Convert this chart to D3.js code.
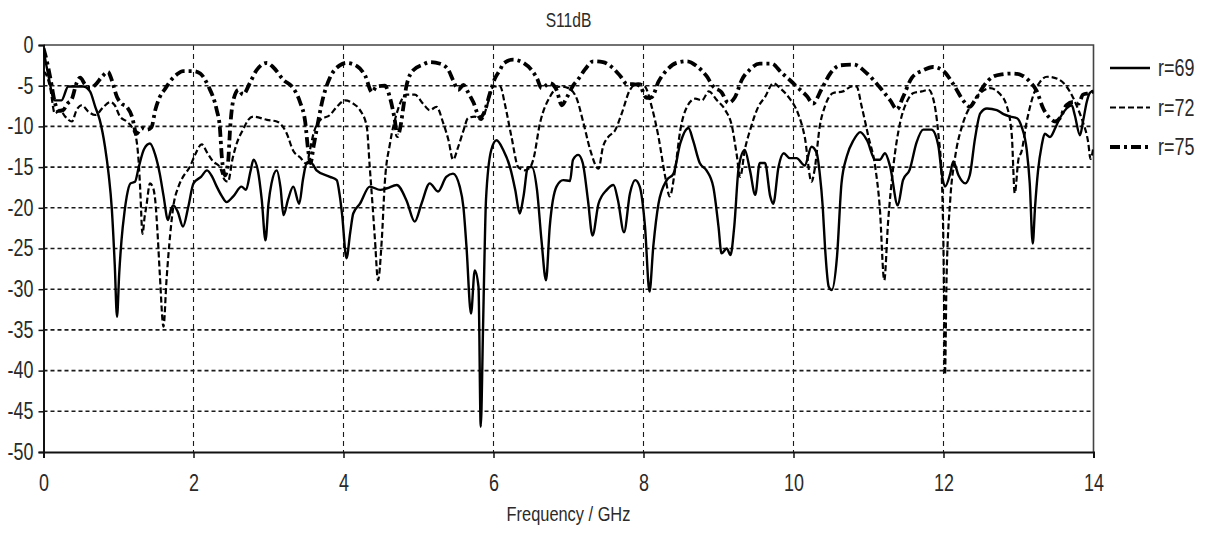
<!DOCTYPE html>
<html>
<head>
<meta charset="utf-8">
<script src="https://cdn.jsdelivr.net/npm/d3@7"></script>
<style>
  html, body { margin: 0; padding: 0; background: #fff; }
  svg { display: block; }
  text { font-family: "Liberation Sans", Arial, sans-serif; fill: #2a2a2a; }
  .axis path, .axis line { stroke: #111; }
  .axis path { stroke-width: 2; }
  .axis line { stroke-width: 1.5; }
  .grid line { stroke: #1a1a1a; stroke-width: 1.6; stroke-dasharray: 4, 3; }
  .grid_v line { stroke-width: 1.1; stroke-dasharray: 5, 4; }
  .series { fill: none; stroke: #000; stroke-linejoin: round; }
</style>
</head>
<body>
<svg id="chart" width="1209" height="537"></svg>
<script>
// 频率轴刻度 (GHz) 与 dB 刻度
const xTicks = [0, 2, 4, 6, 8, 10, 12, 14];
const yTicks = [0, -5, -10, -15, -20, -25, -30, -35, -40, -45, -50];
const seriesNames = ['r=69', 'r=72', 'r=75'];

// [频率 GHz, S11 dB]
const r69 = [
  [0, -0.6], [0.06, -3.5], [0.15, -6.8], [0.24, -6.8], [0.33, -5.1], [0.44, -5.1], [0.53, -5.1],
  [0.62, -5.7], [0.69, -7.6], [0.75, -9.2], [0.82, -12.5], [0.87, -16], [0.91, -20], [0.95, -27],
  [0.98, -33.4], [1.01, -28], [1.04, -24], [1.08, -20.5], [1.11, -18.6], [1.16, -17], [1.22, -16.8],
  [1.27, -15], [1.34, -12.8], [1.42, -12.1], [1.49, -13.5], [1.55, -15.8], [1.6, -18.5], [1.66, -21.5],
  [1.7, -20.2], [1.73, -19.7], [1.79, -20.5], [1.86, -22.3], [1.93, -19.9], [2.0, -17], [2.1, -16.2],
  [2.18, -15.4], [2.25, -16.2], [2.31, -17.4], [2.38, -18.6], [2.44, -19.3], [2.53, -18.6], [2.64, -17.4],
  [2.7, -17.8], [2.76, -15.5], [2.8, -14.1], [2.86, -15.5], [2.91, -19], [2.96, -24], [3.0, -19.5],
  [3.04, -17], [3.11, -15.4], [3.16, -17.5], [3.2, -20.9], [3.26, -19], [3.33, -17.4], [3.41, -19.5],
  [3.46, -16.5], [3.51, -14.5], [3.57, -14.5], [3.64, -15.4], [3.82, -16.2], [3.91, -16.6], [3.95, -18.5],
  [3.98, -20.7], [4.04, -26.2], [4.09, -23], [4.13, -20.7], [4.22, -19.5], [4.35, -17.4], [4.49, -17.8],
  [4.58, -17.6], [4.71, -17.2], [4.84, -19.1], [4.95, -21.7], [5.04, -19.5], [5.15, -17], [5.26, -18],
  [5.37, -16.2], [5.46, -15.8], [5.55, -17.4], [5.6, -20], [5.64, -24.8], [5.7, -33], [5.75, -27.7],
  [5.8, -29.7], [5.83, -46.9], [5.86, -35], [5.88, -26], [5.9, -19], [5.97, -12.9], [6.04, -11.7],
  [6.13, -12.9], [6.22, -15], [6.29, -17.8], [6.35, -20.7], [6.4, -18.6], [6.46, -15], [6.51, -15],
  [6.58, -17.8], [6.64, -24], [6.7, -28.9], [6.75, -22.3], [6.84, -17.4], [6.93, -16.6], [7.02, -16.7],
  [7.06, -14.1], [7.13, -13.5], [7.19, -14.5], [7.26, -19.1], [7.32, -23.4], [7.4, -19.5], [7.51, -17.8],
  [7.6, -17.2], [7.66, -19.1], [7.74, -23], [7.82, -18.2], [7.89, -16.6], [7.95, -17.4], [8.02, -22.3],
  [8.08, -30.3], [8.13, -24.8], [8.2, -19.5], [8.31, -16.6], [8.4, -15.8], [8.49, -12.1], [8.6, -10.2],
  [8.66, -11.7], [8.75, -14.5], [8.84, -15.4], [8.93, -17.4], [9.0, -22.3], [9.04, -25.6], [9.11, -25],
  [9.16, -25.8], [9.21, -22.3], [9.27, -15], [9.35, -12.9], [9.42, -15.4], [9.49, -18.4], [9.55, -14.5],
  [9.62, -14.5], [9.69, -18.6], [9.73, -19.5], [9.8, -15], [9.87, -13.3], [9.95, -13.9], [10.04, -13.9],
  [10.15, -14.8], [10.24, -12.5], [10.31, -13.3], [10.35, -15.8], [10.39, -19.9], [10.42, -24.8],
  [10.47, -29.7], [10.51, -30.1], [10.58, -26], [10.64, -17], [10.71, -13.7], [10.8, -11.7], [10.89, -10.7],
  [10.98, -11.7], [11.09, -14.1], [11.15, -14.1], [11.22, -13.3], [11.29, -15], [11.39, -19.7],
  [11.46, -16.6], [11.55, -15.3], [11.64, -12], [11.73, -10.4], [11.84, -10.4], [11.93, -12.3],
  [11.98, -16], [12.02, -17.4], [12.09, -15.8], [12.13, -14.3], [12.2, -16], [12.29, -17], [12.35, -16],
  [12.42, -11.5], [12.49, -8.4], [12.58, -7.8], [12.71, -8], [12.8, -8.5], [12.89, -8.8], [12.98, -9],
  [13.04, -10], [13.11, -12.9], [13.15, -17], [13.19, -24.4], [13.22, -20], [13.26, -15.5], [13.31, -12.3],
  [13.35, -10.9], [13.42, -11.3], [13.49, -10.2], [13.55, -9], [13.64, -7.8], [13.71, -7.4], [13.75, -8.6],
  [13.82, -11.1], [13.86, -9.4], [13.91, -7], [13.95, -5.9], [14, -5.6]
];

const r72 = [
  [0, -3.3], [0.02, -3.4], [0.09, -5.3], [0.15, -8.4], [0.22, -8], [0.29, -8.8], [0.38, -9.4], [0.44, -8],
  [0.51, -7.4], [0.6, -8.2], [0.69, -8.6], [0.8, -7.6], [0.89, -7], [0.95, -7.4], [1.02, -8.8], [1.11, -9.4],
  [1.2, -10.5], [1.24, -11.7], [1.27, -14.5], [1.29, -17.8], [1.32, -23.2], [1.35, -21], [1.37, -19.9],
  [1.42, -17], [1.46, -17.5], [1.49, -19.1], [1.52, -23], [1.55, -28], [1.6, -34.6], [1.64, -28.9],
  [1.69, -23.2], [1.73, -19.9], [1.8, -17.4], [1.86, -16.2], [1.95, -15], [2.02, -13.5], [2.11, -12.2],
  [2.18, -13.2], [2.26, -14.3], [2.35, -15], [2.41, -16.5], [2.46, -16.8], [2.52, -14], [2.58, -12],
  [2.66, -10.4], [2.73, -9.2], [2.8, -8.8], [2.98, -9.2], [3.11, -9.4], [3.24, -10.8], [3.33, -13],
  [3.42, -13.8], [3.51, -14.6], [3.55, -13], [3.6, -10.9], [3.69, -9.2], [3.82, -8.6], [3.91, -7.6],
  [4.02, -6.8], [4.13, -7.2], [4.22, -8], [4.31, -10], [4.35, -15], [4.39, -20], [4.42, -24], [4.46, -28.9],
  [4.51, -24], [4.55, -17], [4.62, -12.1], [4.71, -8.4], [4.84, -6.1], [4.95, -6.1], [5.06, -7.2],
  [5.15, -8], [5.24, -7.6], [5.33, -9.6], [5.4, -11.7], [5.46, -14.1], [5.53, -12.5], [5.6, -10.5],
  [5.66, -9], [5.75, -8.8], [5.84, -9.2], [5.91, -7.6], [6.0, -5.1], [6.09, -5.1], [6.15, -7.2],
  [6.24, -11.3], [6.33, -15], [6.42, -15.4], [6.49, -15], [6.53, -14.1], [6.62, -9.6], [6.75, -6.4],
  [6.89, -5.1], [7.0, -5.3], [7.11, -6.6], [7.2, -9.6], [7.29, -12.9], [7.4, -15.2], [7.46, -12.5],
  [7.53, -11.3], [7.62, -10.5], [7.71, -8.4], [7.82, -5.5], [7.93, -4.7], [8.02, -5.1], [8.11, -7.6],
  [8.2, -11.3], [8.29, -16.2], [8.35, -18.6], [8.42, -15.4], [8.49, -10.5], [8.58, -7.6], [8.69, -6.6],
  [8.78, -6.8], [8.87, -5.7], [8.98, -6.8], [9.09, -8], [9.18, -10], [9.24, -13.3], [9.29, -16.2],
  [9.35, -12.9], [9.42, -10.5], [9.53, -7.6], [9.62, -6.4], [9.73, -4.7], [9.82, -5.3], [9.95, -6.6],
  [10.06, -8.4], [10.15, -11.3], [10.24, -16.8], [10.28, -15.4], [10.35, -10], [10.42, -7.5],
  [10.53, -5.9], [10.66, -5.7], [10.78, -5.1], [10.84, -5.1], [10.91, -7.6], [11.0, -11.3], [11.09, -15],
  [11.15, -19.9], [11.21, -28.9], [11.26, -21.9], [11.33, -15], [11.42, -9.6], [11.51, -7], [11.6, -5.9],
  [11.71, -5.7], [11.8, -5.5], [11.86, -6.5], [11.93, -10.8], [11.98, -17], [12.0, -25.2], [12.02, -40.5],
  [12.04, -29], [12.09, -19], [12.15, -14.1], [12.26, -9.6], [12.38, -7.2], [12.49, -5.9], [12.62, -5.3],
  [12.75, -6], [12.84, -7.4], [12.91, -11], [12.95, -18.2], [13.0, -14], [13.04, -13.1], [13.11, -9.4],
  [13.2, -6.1], [13.29, -4.5], [13.38, -3.9], [13.53, -4.2], [13.64, -5.1], [13.73, -6.5], [13.8, -8],
  [13.86, -9.5], [13.93, -12], [13.96, -14], [14, -12.5]
];

const r75 = [
  [0, -0.4], [0.04, -1.8], [0.09, -4], [0.15, -7], [0.2, -8.1], [0.26, -8], [0.32, -7.2], [0.38, -6.6],
  [0.44, -4.7], [0.49, -4], [0.55, -4.8], [0.62, -5.3], [0.69, -4.9], [0.78, -3.9], [0.86, -3.3],
  [0.91, -4.3], [0.98, -6.4], [1.04, -7.2], [1.11, -7.6], [1.18, -8.8], [1.24, -10.9], [1.31, -10.2],
  [1.38, -10.4], [1.44, -10.1], [1.49, -8], [1.55, -6.4], [1.62, -5.4], [1.71, -4.2], [1.78, -3.6],
  [1.86, -3.2], [2.0, -3.2], [2.09, -3.5], [2.2, -5.1], [2.31, -8], [2.35, -10], [2.38, -14], [2.42, -16],
  [2.46, -14.5], [2.49, -10], [2.53, -6.8], [2.6, -5.5], [2.66, -6.1], [2.75, -4.7], [2.84, -3.1],
  [2.98, -2.2], [3.06, -2.7], [3.2, -4.3], [3.33, -5.3], [3.42, -7], [3.49, -9.5], [3.53, -13],
  [3.56, -14.5], [3.6, -12.5], [3.64, -10.5], [3.73, -6.4], [3.82, -4], [3.95, -2.5], [4.04, -2.2],
  [4.18, -2.6], [4.29, -3.8], [4.38, -5.8], [4.44, -5.1], [4.55, -5], [4.62, -6.5], [4.68, -9],
  [4.72, -11.2], [4.76, -10], [4.8, -7.5], [4.84, -5], [4.93, -3.1], [5.06, -2.4], [5.15, -2.1],
  [5.29, -2.3], [5.4, -3.1], [5.46, -4.3], [5.53, -5.5], [5.6, -4.9], [5.66, -5.8], [5.73, -7],
  [5.82, -8.9], [5.88, -8.2], [5.95, -6], [6.02, -4.1], [6.09, -3], [6.13, -2.3], [6.26, -1.8], [6.4, -2.2],
  [6.51, -3.1], [6.58, -4.1], [6.64, -5.3], [6.75, -4.7], [6.84, -5.5], [6.91, -7.4], [6.98, -6.4],
  [7.06, -5], [7.13, -4.2], [7.22, -3], [7.33, -2], [7.46, -2.1], [7.6, -2.9], [7.69, -3.8], [7.78, -4.8],
  [7.86, -4.8], [7.95, -5], [8.04, -6.5], [8.11, -6.4], [8.2, -4.5], [8.31, -3.1], [8.44, -2.2],
  [8.58, -2], [8.71, -2.6], [8.84, -3.8], [8.93, -5.1], [9.04, -5.8], [9.13, -7.1], [9.22, -6.4],
  [9.31, -4.3], [9.42, -3], [9.55, -2.3], [9.71, -2.3], [9.84, -3.4], [9.95, -4.3], [10.04, -5.1],
  [10.18, -6.3], [10.26, -7.2], [10.37, -5.5], [10.49, -3.5], [10.62, -2.5], [10.8, -2.4], [10.98, -3.5],
  [11.15, -5.2], [11.29, -6.8], [11.38, -7.9], [11.46, -6.4], [11.58, -4], [11.73, -3.1], [11.86, -2.7],
  [12.0, -3.2], [12.13, -4.8], [12.27, -6.9], [12.35, -7.6], [12.42, -6.8], [12.53, -5.1], [12.66, -3.9],
  [12.78, -3.6], [12.93, -3.5], [13.06, -3.8], [13.15, -4.5], [13.24, -5.6], [13.33, -7.8], [13.42, -9],
  [13.49, -9.4], [13.55, -9], [13.64, -7.4], [13.73, -7], [13.8, -7.2], [13.86, -6.1], [13.95, -5.9],
  [14, -5.7]
];

const seriesData = [r69, r72, r75];
const seriesDash = [null, '6,3', '10,4,3,4'];
const seriesWidth = [2.4, 2.2, 3.8];

// 参考图的字体很窄，横向压缩一下
const TEXT_SQUEEZE = 0.78;

function squeeze(selection) {
  selection.each(function() {
    let t = d3.select(this);
    let x = +t.attr('x') || 0;
    let y = +t.attr('y') || 0;
    t.attr('x', 0).attr('y', 0)
      .attr('transform', `translate(${x},${y}) scale(${TEXT_SQUEEZE},1)`);
  });
}

class S11Chart {
  static margin = { top: 45, left: 43.5, right: 115.5, bottom: 85 };

  constructor(svg) {
    this.svg = svg;
    this.width = +svg.attr('width');
    this.height = +svg.attr('height');
    this.initScales();
    this.renderGrid();
    this.renderAxises();
    this.renderLines();
    this.renderLegend();
    this.renderTexts();
  }

  initScales() {
    let { top, left, right, bottom } = S11Chart.margin;
    this.x = d3.scaleLinear().domain([0, 14]).range([left, this.width - right]);
    this.y = d3.scaleLinear().domain([-50, 0]).range([this.height - bottom, top]);
  }

  renderGrid() {
    let [x0, x1] = this.x.range();
    let [y0, y1] = this.y.range();

    this.svg.append('g')
      .attr('class', 'grid')
      .selectAll('line')
      .data(yTicks.filter(d => d > -50 && d < 0))
      .join('line')
      .attr('x1', x0).attr('x2', x1)
      .attr('y1', d => this.y(d)).attr('y2', d => this.y(d));

    this.svg.append('g')
      .attr('class', 'grid grid_v')
      .selectAll('line')
      .data(xTicks.filter(d => d > 0 && d < 14))
      .join('line')
      .attr('x1', d => this.x(d)).attr('x2', d => this.x(d))
      .attr('y1', y1).attr('y2', y0);

    // 上边框和右边框
    this.svg.append('path')
      .attr('d', `M${x0},${y1}H${x1}V${y0}`)
      .attr('fill', 'none')
      .attr('stroke', '#444')
      .attr('stroke-width', 1.6);
  }

  renderAxises() {
    let { left } = S11Chart.margin;
    let bottomY = this.y(-50);

    this.svg.append('g')
      .attr('class', 'axis')
      .attr('transform', `translate(${left},0)`)
      .call(d3.axisLeft(this.y).tickValues(yTicks).tickSize(5).tickPadding(5).tickFormat(d => String(d)))
      .call(g => g.selectAll('text').style('font-size', '23px').call(squeeze));

    this.svg.append('g')
      .attr('class', 'axis')
      .attr('transform', `translate(0,${bottomY})`)
      .call(d3.axisBottom(this.x).tickValues(xTicks).tickSize(6).tickPadding(17).tickFormat(d => String(d)))
      .call(g => g.selectAll('text').style('font-size', '23px').call(squeeze));
  }

  renderLines() {
    let [x0, x1] = this.x.range();
    let [y0, y1] = this.y.range();

    this.svg.append('clipPath')
      .attr('id', 'plot_clip')
      .append('rect')
      .attr('x', x0).attr('y', y1 - 2)
      .attr('width', x1 - x0).attr('height', y0 - y1 + 2);

    let line = d3.line()
      .x(d => this.x(d[0]))
      .y(d => this.y(d[1]))
      .curve(d3.curveMonotoneX);

    this.svg.append('g')
      .attr('clip-path', 'url(#plot_clip)')
      .selectAll('path')
      .data(seriesData)
      .join('path')
      .attr('class', 'series')
      .attr('d', d => line(d))
      .attr('stroke-width', (d, i) => seriesWidth[i])
      .attr('stroke-dasharray', (d, i) => seriesDash[i]);
  }

  renderLegend() {
    let legend = this.svg.append('g').attr('transform', 'translate(1110,68)');
    let rows = legend.selectAll('g')
      .data(seriesNames)
      .join('g')
      .attr('transform', (d, i) => `translate(0,${i * 39.5})`);

    rows.append('line')
      .attr('class', 'series')
      .attr('x1', 0).attr('x2', 40)
      .attr('stroke-width', (d, i) => seriesWidth[i])
      .attr('stroke-dasharray', (d, i) => seriesDash[i]);

    rows.append('text')
      .attr('x', 48)
      .attr('y', 8)
      .style('font-size', '23px')
      .text(d => d)
      .call(squeeze);
  }

  renderTexts() {
    let cx = (this.x(0) + this.x(14)) / 2;

    this.svg.append('text')
      .attr('x', cx).attr('y', 27)
      .attr('text-anchor', 'middle')
      .style('font-size', '20px')
      .text('S11dB')
      .call(squeeze);

    this.svg.append('text')
      .attr('x', cx).attr('y', 521)
      .attr('text-anchor', 'middle')
      .style('font-size', '21px')
      .text('Frequency / GHz')
      .call(squeeze);
  }
}

new S11Chart(d3.select('#chart'));
</script>
</body>
</html>
